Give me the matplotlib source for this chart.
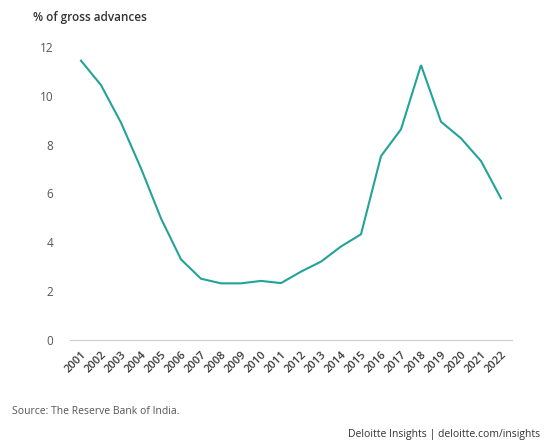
import matplotlib
matplotlib.use("Agg")
import matplotlib.pyplot as plt

years = list(range(2001, 2023))
npa = [11.44, 10.44, 8.9, 7.03, 4.98, 3.30, 2.51, 2.32, 2.32, 2.42, 2.33,
       2.80, 3.21, 3.83, 4.33, 7.53, 8.63, 11.26, 8.94, 8.26, 7.33, 5.80]
yticks = [0, 2, 4, 6, 8, 10, 12]

plt.rcParams['font.family'] = ['Open Sans', 'DejaVu Sans']

fig = plt.figure(figsize=(5.47, 4.41), dpi=100)
ax = fig.add_axes([70/547, 1-340/441, 442/547, 293/441])

ax.plot(years, npa, color='#22a39a', lw=1.5, solid_joinstyle='miter')

ax.set_xlim(2000.45, 2022.55)
ax.set_ylim(0, 12)
ax.set_yticks(yticks)
ax.set_xticks(years)
ax.set_xticklabels([str(y) for y in years], rotation=45, ha='right',
                   rotation_mode='anchor', fontsize=8, fontweight='semibold',
                   color='#3a3a3a')
for lab in ax.get_yticklabels():
    lab.set_fontsize(8.5)
    lab.set_color('#555')
ax.tick_params(axis='both', length=0)
ax.tick_params(axis='y', pad=12)
ax.tick_params(axis='x', pad=7)

for s in ['top', 'right', 'left']:
    ax.spines[s].set_visible(False)
ax.spines['bottom'].set_color('#cccccc')
ax.spines['bottom'].set_linewidth(0.8)

fig.text(33/547, 1-17/441, '% of gross advances', fontsize=8.5,
         fontweight='semibold', color='#333', va='center', ha='left')
fig.text(12/547, 1-411/441, 'Source: The Reserve Bank of India.', fontsize=7.5,
         color='#555', va='center', ha='left')
fig.text(540/547, 1-434/441, 'Deloitte Insights | deloitte.com/insights', fontsize=7.5,
         color='#333', va='center', ha='right')

fig.savefig('out.png', dpi=100, facecolor='white')
